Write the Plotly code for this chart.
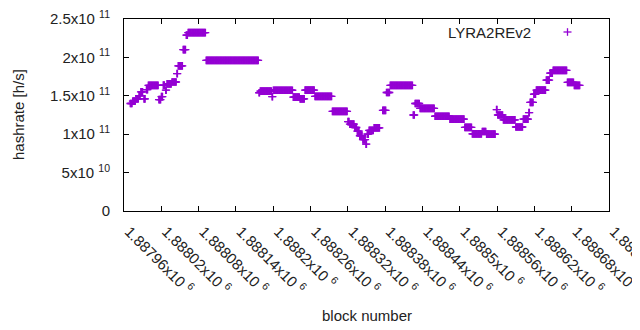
import plotly.graph_objects as go

# seg_first / seg_last: first and last block of each run; seg_hashrate: value in units of 1e9 h/s
seg_first = [1887970, 1887974, 1887979, 1887984, 1887987, 1887992, 1887996, 1887999,
             1888016, 1888020, 1888023, 1888027, 1888029, 1888037, 1888045, 1888047,
             1888055, 1888060, 1888063, 1888092, 1888177, 1888179, 1888198, 1888200,
             1888232, 1888243, 1888251, 1888267, 1888295, 1888320, 1888323, 1888331,
             1888335, 1888339, 1888344, 1888349, 1888351, 1888354, 1888362, 1888376,
             1888382, 1888388, 1888425, 1888428, 1888436, 1888460, 1888484, 1888508,
             1888520, 1888536, 1888543, 1888559, 1888561, 1888570, 1888590, 1888602,
             1888611, 1888613, 1888619, 1888623, 1888639, 1888645, 1888650, 1888673,
             1888684]
seg_last = [1887973, 1887978, 1887983, 1887986, 1887990, 1887994, 1887998, 1888015,
            1888019, 1888022, 1888025, 1888028, 1888036, 1888044, 1888046, 1888054,
            1888059, 1888062, 1888091, 1888176, 1888178, 1888197, 1888199, 1888231,
            1888242, 1888250, 1888266, 1888294, 1888319, 1888322, 1888330, 1888334,
            1888338, 1888343, 1888348, 1888350, 1888353, 1888361, 1888371, 1888381,
            1888387, 1888424, 1888427, 1888435, 1888459, 1888483, 1888507, 1888519,
            1888535, 1888542, 1888557, 1888560, 1888569, 1888589, 1888601, 1888610,
            1888612, 1888618, 1888622, 1888638, 1888644, 1888649, 1888672, 1888683,
            1888693]
seg_hashrate = [140, 143, 146, 150, 155, 146, 158, 163.6,
                145, 149, 164, 157.5, 165.5, 168, 179, 189,
                210, 229, 232.3, 196, 154, 156, 149, 157.2,
                148.4, 146, 157.3, 149.3, 129.8, 116.3, 113, 108.7,
                104, 98, 93, 87, 100, 105, 108.3, 131,
                154.3, 163.7, 125, 140, 133.7, 123.4, 119.5, 109,
                100.3, 103.5, 100, 132, 125, 118.7, 109.4, 119.5,
                128, 141.5, 152, 157.5, 170.5, 179.5, 183.2, 167.4,
                163.7]

x_tick_vals = [1887960, 1888020, 1888080, 1888140, 1888200, 1888260, 1888320,
               1888380, 1888440, 1888500, 1888560, 1888620, 1888680, 1888740]
y_tick_vals = [0, 5e10, 1e11, 1.5e11, 2e11, 2.5e11]
y_tick_text = ["0", "5x10\u00a0<sup>10</sup>", "1x10\u00a0<sup>11</sup>",
               "1.5x10\u00a0<sup>11</sup>", "2x10\u00a0<sup>11</sup>", "2.5x10\u00a0<sup>11</sup>"]
series_name = "LYRA2REv2"
x_title = "block number"
y_title = "hashrate [h/s]"

blocks, rates = [], []
for a, b, v in zip(seg_first, seg_last, seg_hashrate):
    for n in range(a, b + 1):
        blocks.append(n)
        rates.append(v * 1e9)

x_tick_text = [f"{v/1e6:g}x10\u00a0<sup>6</sup>" for v in x_tick_vals]

COLOR = "#9400D3"
FONT = "Liberation Sans, Arial, sans-serif"
TXT = "#222222"

# the page body adds an 8px offset, so the figure is 8px smaller and margins shifted
W, H = 632, 322
ML, MR, MT, MB = 116, 31, 11, 119
PW, PH = W - ML - MR, H - MT - MB

fig = go.Figure()
fig.add_trace(go.Scatter(
    x=blocks, y=rates, mode="markers", name=series_name,
    marker=dict(symbol="cross-thin", size=5.5, color=COLOR,
                line=dict(width=1.3, color=COLOR)),
    showlegend=False,
))

axis_common = dict(
    showline=True, linecolor="black", linewidth=1, mirror="allticks",
    ticks="inside", ticklen=5, tickcolor="black", tickwidth=1,
    showgrid=False, zeroline=False, automargin=False,
    ticklabeloverflow="allow",
    tickfont=dict(family=FONT, size=15, color=TXT),
)

fig.update_layout(
    width=W, height=H,
    margin=dict(l=ML, r=MR, t=MT, b=MB),
    paper_bgcolor="white", plot_bgcolor="white",
    font=dict(family=FONT, size=15, color=TXT),
    showlegend=False,
    xaxis=dict(range=[1887960, 1888740], tickmode="array",
               tickvals=x_tick_vals, ticktext=x_tick_text, tickangle=45,
               ticklabelstandoff=5, ticklabelshift=5, **axis_common),
    yaxis=dict(range=[0, 2.5e11], tickmode="array",
               tickvals=y_tick_vals, ticktext=y_tick_text,
               ticklabelstandoff=10, **axis_common),
)

# axis titles
fig.add_annotation(text=x_title, xref="paper", yref="paper",
                   x=0.5, y=(203 - 307) / PH, xanchor="center", yanchor="middle",
                   showarrow=False, font=dict(family=FONT, size=15, color=TXT))
fig.add_annotation(text=y_title, xref="paper", yref="paper",
                   x=(10 - ML) / PW, y=0.5, xanchor="center", yanchor="middle",
                   textangle=-90, showarrow=False, font=dict(family=FONT, size=15, color=TXT))

# key (gnuplot style: text then sample on the right)
fig.add_annotation(text=series_name, xref="paper", yref="paper",
                   x=(533 - 124) / PW, y=(211 - 32) / PH,
                   xanchor="right", yanchor="middle", showarrow=False,
                   font=dict(family=FONT, size=15, color=TXT))
kx, ky = (567.5 - 124) / PW, (211 - 32) / PH
hx, hy = 4 / PW, 3.8 / PH
fig.add_shape(type="line", xref="paper", yref="paper", x0=kx - hx, x1=kx + hx, y0=ky, y1=ky,
              line=dict(color=COLOR, width=1.3))
fig.add_shape(type="line", xref="paper", yref="paper", x0=kx, x1=kx, y0=ky - hy, y1=ky + hy,
              line=dict(color=COLOR, width=1.3))

fig.write_html("out.html")
